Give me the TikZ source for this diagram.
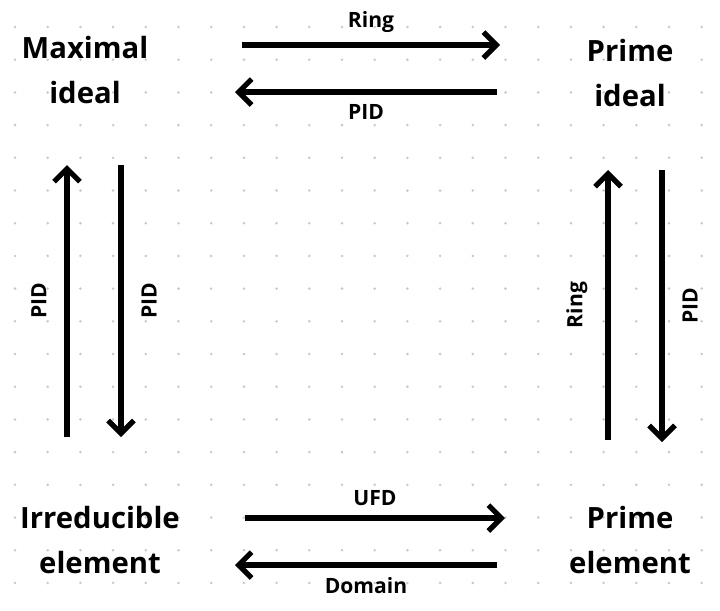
\documentclass[tikz,border=0pt]{standalone}
\usepackage{fontspec}
\setmainfont{Open Sans}
\usetikzlibrary{arrows.meta}
\definecolor{griddot}{HTML}{C8C8C8}
\begin{document}
\begin{tikzpicture}[x=0.03cm,y=-0.03cm,
	term/.style={font=\fontsize{25}{38}\selectfont\bfseries,align=center},
	lab/.style={font=\fontsize{18}{20}\selectfont\bfseries},
	imp/.style={line width=4.5pt,-{Straight Barb[length=11pt,width=22pt,line width=4.5pt]}}]
		\useasboundingbox (0,0) rectangle (720,611);
		%
		\foreach \i in {0,...,21}{
			\foreach \j in {0,...,18}{
				\fill[griddot] (15+32.7*\i,27+32.7*\j) circle (1.4);
			}
		}
		%
		\node[term] (max) at (85,70) {Maximal\\ideal};
		\node[term] (pri) at (630,73) {Prime\\ideal};
		\node[term] (irr) at (100,540) {Irreducible\\element};
		\node[term] (pre) at (630,540) {Prime\\element};
		%
		\coordinate (a1) at (242,45); \coordinate (a2) at (500,45);
		\coordinate (b1) at (497,92); \coordinate (b2) at (235,92);
		\coordinate (c1) at (245,518); \coordinate (c2) at (505,518);
		\coordinate (d1) at (497,565); \coordinate (d2) at (235,565);
		\coordinate (e1) at (67,437); \coordinate (e2) at (67,165);
		\coordinate (f1) at (121,165); \coordinate (f2) at (121,437);
		\coordinate (g1) at (608,440); \coordinate (g2) at (608,170);
		\coordinate (h1) at (662,170); \coordinate (h2) at (662,442);
		%
		\draw[imp] (a1) -- (a2) node[lab,midway,above=5pt] {Ring};
		\draw[imp] (b1) -- (b2) node[lab,midway,below=5pt] {PID};
		\draw[imp] (c1) -- (c2) node[lab,midway,above=5pt] {UFD};
		\draw[imp] (d1) -- (d2) node[lab,midway,below=5pt] {Domain};
		\draw[imp] (e1) -- (e2) node[lab,midway,left=12pt,rotate=90,anchor=south] {PID};
		\draw[imp] (f1) -- (f2) node[lab,midway,right=12pt,rotate=90,anchor=north] {PID};
		\draw[imp] (g1) -- (g2) node[lab,midway,left=12pt,rotate=90,anchor=south] {Ring};
		\draw[imp] (h1) -- (h2) node[lab,midway,right=12pt,rotate=90,anchor=north] {PID};
	\end{tikzpicture}
\end{document}
